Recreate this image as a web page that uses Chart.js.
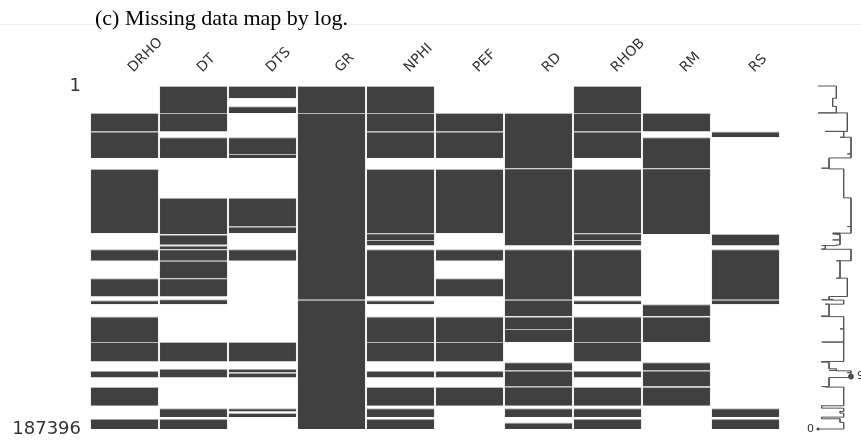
<!DOCTYPE html>
<html>
<head>
<meta charset="utf-8">
<script src="https://cdn.jsdelivr.net/npm/chart.js@4/dist/chart.umd.min.js"></script>
<style>
  html, body { margin: 0; padding: 0; background: #fff; }
  #wrap { position: relative; width: 861px; height: 441px; overflow: hidden; }
  #rule { position: absolute; left: 0; top: 24px; width: 861px; border-top: 1px solid #f0f0f0; }
  #main { position: absolute; left: 0; top: 0; }
  #spark { position: absolute; left: 790px; top: 0; }
  #title { position: absolute; left: 95px; top: 5px; font-family: "Liberation Serif", "Times New Roman", serif;
           font-size: 22px; color: #000; white-space: nowrap; }
</style>
</head>
<body>
<div id="wrap">
  <div id="rule"></div>
  <canvas id="main" width="861" height="441"></canvas>
  <canvas id="spark" width="71" height="441"></canvas>
  <div id="title">(c) Missing data map by log.</div>
</div>
<script>
// Logs (columns) of the stacked well dataset
const columns = ['DRHO', 'DT', 'DTS', 'GR', 'NPHI', 'PEF', 'RD', 'RHOB', 'RM', 'RS'];
const totalRows = 187396;

// Row ranges [first, last) where each log has values
const DRHO = [[14700, 24800], [24800, 39300], [45300, 80400], [89200, 95500], [105000, 115000],
              [117000, 119200], [126000, 139900], [139900, 150500], [155600, 159300], [164500, 174700],
              [181800, 187396]];
const DT   = [[0, 14700], [14700, 24800], [28000, 39300], [61100, 80800], [81200, 86800], [87200, 89000],
              [89200, 95500], [95500, 105000], [105000, 115000], [116500, 119200], [139900, 150500],
              [154500, 159300], [176000, 180900], [181800, 187396]];
const DTS  = [[0, 6700], [11100, 14700], [28000, 37100], [37100, 39300], [61100, 76800], [76800, 80400],
              [89200, 95500], [139900, 150500], [154500, 156500], [156700, 159300], [176000, 177800],
              [178700, 180900]];
const GR   = [[0, 14700], [14700, 116800], [116800, 187396]];
const NPHI = [[0, 14700], [14700, 24800], [24800, 39300], [45300, 80400], [80400, 84100], [84100, 87200],
              [89200, 115000], [117000, 119200], [126000, 139900], [139900, 150500], [155600, 159300],
              [164500, 174700], [176000, 180900], [181800, 187396]];
const PEF  = [[14700, 24800], [24800, 39300], [45300, 80400], [89200, 95500], [105000, 115000],
              [126000, 139900], [139900, 150500], [155600, 159300], [164500, 174700]];
const RD   = [[14700, 44900], [44900, 87200], [89200, 116800], [116800, 125600], [126000, 132700],
              [132700, 139900], [150900, 155400], [155400, 164200], [164200, 174700], [176000, 180900],
              [183800, 187396]];
const RHOB = [[0, 14700], [14700, 24800], [24800, 39300], [45300, 80400], [80400, 84100], [84100, 87200],
              [89200, 115000], [117000, 119200], [126000, 139900], [139900, 150500], [155600, 159300],
              [164500, 174700], [176000, 180900], [181800, 187396]];
const RM   = [[14700, 24800], [28000, 44900], [44900, 80800], [119200, 125600], [126000, 139900],
              [150900, 155400], [155400, 164200], [164500, 174700]];
const RS   = [[24800, 28000], [80800, 87200], [89200, 116800], [116800, 119200], [176000, 180900],
              [181800, 187396]];

// Row axis ticks
const yTickValues = [0, totalRows];
const yTickLabels = ['1', '187396'];

// Annotated extremes of the completeness sparkline (count of logs present, row)
const sparkMin = { count: 0, row: totalRows };
const sparkMax = { count: 9, row: 158700 };

const segmentsByColumn = [DRHO, DT, DTS, GR, NPHI, PEF, RD, RHOB, RM, RS];
const FILL = '#404040';

// One floating-bar dataset per segment slot; all slots share each column position.
const maxSegs = Math.max(...segmentsByColumn.map(s => s.length));
const barSets = [];
for (let k = 0; k < maxSegs; k++) {
  barSets.push({
    data: segmentsByColumn.map(s => (s[k] ? s[k] : null)),
    backgroundColor: FILL,
    borderColor: '#b9b9b9',
    borderWidth: { top: 1, right: 0.5, bottom: 0, left: 0.5 },
    borderSkipped: false,
    grouped: false,
    barPercentage: 0.985,
    categoryPercentage: 1
  });
}

new Chart(document.getElementById('main'), {
  type: 'bar',
  data: { labels: columns, datasets: barSets },
  options: {
    responsive: false,
    animation: false,
    devicePixelRatio: 1,
    layout: { padding: { left: 0, right: 81, top: 0, bottom: 12 } },
    plugins: { legend: { display: false }, tooltip: { enabled: false } },
    scales: {
      x: {
        position: 'top',
        grid: { display: false, drawTicks: false },
        border: { display: false },
        ticks: {
          autoSkip: false, minRotation: 45, maxRotation: 45, padding: 10, labelOffset: 18,
          color: '#333', font: { family: 'DejaVu Sans', size: 14 }
        },
        afterFit: s => { s.height = 86; }
      },
      y: {
        reverse: true, min: 0, max: totalRows,
        grid: { display: false, drawTicks: false },
        border: { display: false },
        afterBuildTicks: s => { s.ticks = yTickValues.map(v => ({ value: v })); },
        ticks: {
          padding: 9, color: '#333', font: { family: 'DejaVu Sans', size: 18 },
          callback: (v, i) => yTickLabels[i]
        },
        afterFit: s => { s.width = 90; s.paddingTop = 0; s.paddingBottom = 0; }
      }
    }
  }
});

// Completeness sparkline: number of logs present, stepping at every range boundary.
const bounds = [...new Set(segmentsByColumn.flat().flat())].sort((a, b) => a - b);
const coverCount = r => segmentsByColumn.filter(s => s.some(([a, b]) => a <= r && r < b)).length;
const insideCount = r => segmentsByColumn.filter(s => s.some(([a, b]) => a < r && r < b)).length;
const sparkPoints = [];
bounds.forEach((b, i) => {
  if (i > 0) sparkPoints.push({ x: coverCount((bounds[i - 1] + b) / 2), y: b });
  sparkPoints.push({ x: insideCount(b), y: b });
  if (i < bounds.length - 1) sparkPoints.push({ x: coverCount((b + bounds[i + 1]) / 2), y: b });
});

const extremeLabels = {
  id: 'extremeLabels',
  afterDatasetsDraw(chart) {
    const { ctx, scales: { x, y } } = chart;
    ctx.save();
    ctx.fillStyle = '#333';
    ctx.font = '11px "DejaVu Sans"';
    ctx.textBaseline = 'middle';
    ctx.textAlign = 'right';
    ctx.fillText(String(sparkMin.count), x.getPixelForValue(sparkMin.count) - 4, y.getPixelForValue(sparkMin.row));
    ctx.textAlign = 'left';
    ctx.fillText(String(sparkMax.count), x.getPixelForValue(sparkMax.count) + 6, y.getPixelForValue(sparkMax.row));
    ctx.restore();
  }
};

new Chart(document.getElementById('spark'), {
  type: 'scatter',
  data: {
    datasets: [
      {
        data: sparkPoints, showLine: true, borderColor: '#555', borderWidth: 1,
        pointRadius: 0, clip: false
      },
      {
        data: [{ x: sparkMin.count, y: sparkMin.row }, { x: sparkMax.count, y: sparkMax.row }],
        pointRadius: [1.5, 2.8], backgroundColor: '#404040', borderWidth: 0, clip: false
      }
    ]
  },
  options: {
    responsive: false,
    animation: false,
    devicePixelRatio: 1,
    layout: { padding: { left: 28, right: 10, top: 86, bottom: 12 } },
    plugins: { legend: { display: false }, tooltip: { enabled: false } },
    scales: {
      x: { type: 'linear', min: 0, max: 9, display: false },
      y: { type: 'linear', reverse: true, min: 0, max: totalRows, display: false }
    }
  },
  plugins: [extremeLabels]
});
</script>
</body>
</html>
